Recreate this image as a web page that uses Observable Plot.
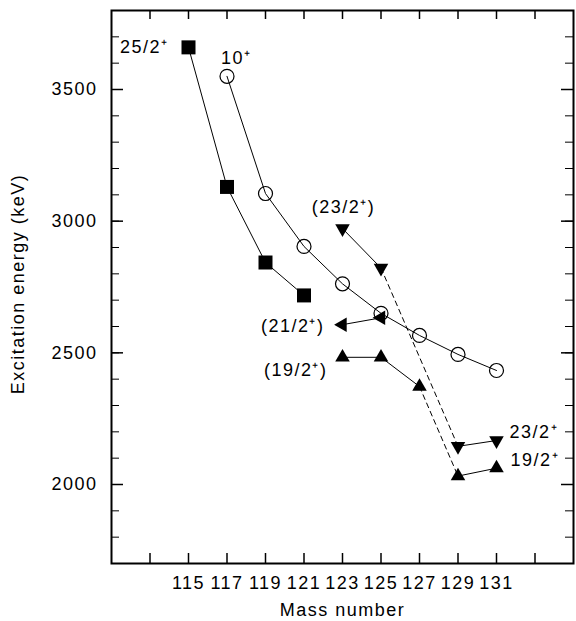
<!DOCTYPE html>
<html><head><meta charset="utf-8">
<script src="https://cdn.jsdelivr.net/npm/d3@7"></script>
<script src="https://cdn.jsdelivr.net/npm/@observablehq/plot@0.6"></script>
<style>
body{margin:0;background:#fff}
svg{display:block}
svg text{letter-spacing:1.5px}
</style>
</head><body><div id="chart"></div>
<script>
// ---- data ----
const massTicks = [115,117,119,121,123,125,127,129,131];
const energyTicks = [2000,2500,3000,3500];

const sqMass = [115,117,119,121];            // 25/2+
const sqE    = [3660,3130,2843,2718];
const ciMass = [117,119,121,123,125,127,129,131]; // 10+
const ciE    = [3550,3105,2904,2762,2650,2566,2494,2433];
const dnMass = [123,125,129,131];            // 23/2+
const dnE    = [2972,2822,2145,2167];
const lfMass = [123,125];                    // 21/2+
const lfE    = [2607,2633];
const upMass = [123,125,127,129,131];        // 19/2+
const upE    = [2483,2483,2372,2032,2062];

const labelText = ["25/2⁺","10⁺","(23/2⁺)","(21/2⁺)","(19/2⁺)","23/2⁺","19/2⁺"];

const rows = (m, e) => m.map((x, i) => ({x, y: e[i]}));
const sq = rows(sqMass, sqE), ci = rows(ciMass, ciE), dn = rows(dnMass, dnE),
      lf = rows(lfMass, lfE), up = rows(upMass, upE);

const W = 576, H = 621, mL = 111, mR = 3, mT = 10, mB = 58;
const fW = W - mL - mR, fH = H - mT - mB;
const FS = 18;
const minorY = d3.range(1800, 3800, 100);
const allX = d3.range(113, 135, 2);

const line = (d, o={}) => Plot.line(d, {x:"x", y:"y", stroke:"black", strokeWidth:1, ...o});
const lab = (txt, p, o) => Plot.text([p], {x:"x", y:"y", text: () => txt, fontSize: FS, fill:"black", lineAnchor:"middle", ...o});

const chart = Plot.plot({
  width: W, height: H,
  marginLeft: mL, marginRight: mR, marginTop: mT, marginBottom: mB,
  style: {fontFamily: "'Liberation Sans', Arial, sans-serif", background: "white", color: "black"},
  x: {domain: [111, 135], axis: null},
  y: {domain: [1700, 3800], axis: null},
  marks: [
    // inward ticks
    Plot.tickY(minorY, {y: d => d, insetRight: fW - 8, stroke:"black"}),
    Plot.tickY(energyTicks, {y: d => d, insetRight: fW - 12, stroke:"black", strokeWidth:1.5}),
    Plot.tickY(minorY, {y: d => d, insetLeft: fW - 8, stroke:"black"}),
    Plot.tickY(energyTicks, {y: d => d, insetLeft: fW - 12, stroke:"black", strokeWidth:1.5}),
    Plot.tickX(allX, {x: d => d, insetTop: fH - 10, stroke:"black", strokeWidth:1.5}),
    Plot.tickX(allX, {x: d => d, insetBottom: fH - 9, stroke:"black", strokeWidth:1.5}),
    Plot.frame({stroke:"black", strokeWidth:2}),
    Plot.axisY({ticks: energyTicks, tickFormat: "d", tickSize: 0, tickPadding: 14, label: null, fontSize: FS}),
    Plot.axisX({ticks: massTicks, tickFormat: "d", tickSize: 0, tickPadding: 13, label: null, fontSize: FS}),
    Plot.text(["Mass number"], {frameAnchor:"bottom", dy: 47, fontSize: FS, lineAnchor:"middle", textAnchor:"middle"}),
    Plot.text(["Excitation energy (keV)"], {frameAnchor:"left", dx: -93, dy: -3, rotate: -90, fontSize: FS, lineAnchor:"middle", textAnchor:"middle"}),
    // lines
    line(sq), line(ci),
    line(dn.slice(0,2)), line(dn.slice(1,3), {strokeDasharray:"5,4"}), line(dn.slice(2,4)),
    line(lf),
    line(up.slice(0,3)), line(up.slice(2,4), {strokeDasharray:"5,4"}), line(up.slice(3,5)),
    // markers
    Plot.dot(sq, {x:"x", y:"y", symbol:"square", r:7.9, fill:"black"}),
    Plot.dot(ci, {x:"x", y:"y", symbol:"circle", r:7, fill:"none", stroke:"black", strokeWidth:1.2}),
    Plot.dot(dn, {x:"x", y:"y", symbol:"triangle", r:5.4, rotate:180, fill:"black"}),
    Plot.dot(lf, {x:"x", y:"y", symbol:"triangle", r:5.4, rotate:-90, fill:"black"}),
    Plot.dot(up, {x:"x", y:"y", symbol:"triangle", r:5.4, fill:"black"}),
    // state labels
    lab(labelText[0], sq[0], {textAnchor:"end", dx:-20, dy:0}),
    lab(labelText[1], ci[0], {textAnchor:"start", dx:-6, dy:-18}),
    lab(labelText[2], dn[0], {textAnchor:"middle", dx:1, dy:-21}),
    lab(labelText[3], lf[0], {textAnchor:"end", dx:-18, dy:2}),
    lab(labelText[4], up[0], {textAnchor:"end", dx:-15, dy:13}),
    lab(labelText[5], dn[3], {textAnchor:"start", dx:13, dy:-8}),
    lab(labelText[6], up[4], {textAnchor:"start", dx:14, dy:-8})
  ]
});
document.getElementById("chart").append(chart);
</script>
</body></html>
